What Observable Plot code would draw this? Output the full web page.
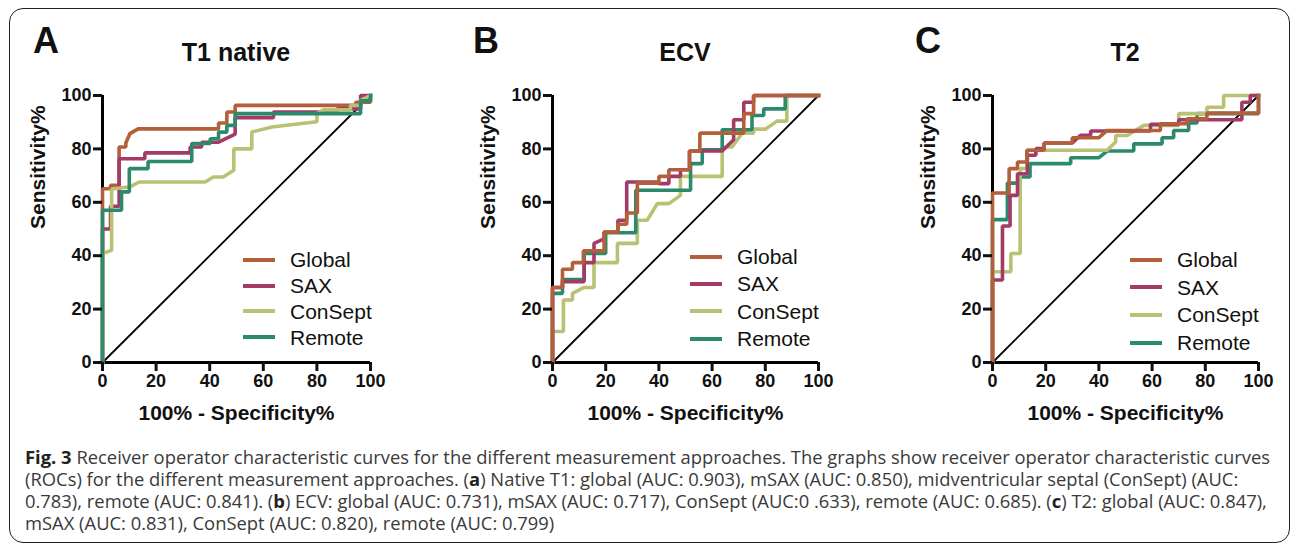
<!DOCTYPE html>
<html><head><meta charset="utf-8">
<script src="https://cdn.jsdelivr.net/npm/d3@7"></script>
<script src="https://cdn.jsdelivr.net/npm/@observablehq/plot@0.6"></script>
<style>
body{margin:0;background:#fff;}
#fig{position:relative;width:1295px;height:555px;overflow:hidden;font-family:"Liberation Sans",Arial,sans-serif;color:#111;}
.frame{position:absolute;left:9px;top:8px;width:1281px;height:535px;border:1.5px solid #222;border-radius:14px;box-sizing:border-box;}
.letter{position:absolute;font-size:36px;font-weight:bold;line-height:1;}
.title{position:absolute;font-size:25px;font-weight:bold;line-height:1;text-align:center;width:300px;}
.panel{position:absolute;}
.legend{position:absolute;}
.row{display:flex;align-items:center;font-size:21px;line-height:1;color:#111;}
.sw{width:32px;height:4px;margin-right:15px;}
.cap{position:absolute;left:25px;white-space:nowrap;font-family:"Open Sans",sans-serif;font-size:17.5px;line-height:22px;color:#3a3a3a;transform-origin:0 50%;}
.cap b{color:#222;}
</style></head>
<body>
<div id="fig"><div class="frame"></div></div>
<script>
// ---------- data ----------
const seriesNames = ["Global", "SAX", "ConSept", "Remote"];
const seriesColors = ["#b35f3a", "#a33b66", "#b9c274", "#2b8a6b"];
const panelLetters = ["A", "B", "C"];
const panelTitles = ["T1 native", "ECV", "T2"];
const xTicks = [0, 20, 40, 60, 80, 100];
const yTicks = [0, 20, 40, 60, 80, 100];
const xLabel = "100% - Specificity%";
const yLabel = "Sensitivity%";
const diagonal = [[0, 0], [100, 100]];

// Panel A: T1 native  [100-specificity, sensitivity]
const t1Global = [[0,0],[0,65.1],[3,65.1],[3,66.4],[6.2,66.4],[6.2,80.7],[8.7,80.7],[8.7,82.2],[10.2,85.7],[13.3,87.5],[43.3,87.5],[43.3,89.7],[46.4,89.7],[46.4,93.8],[49.5,93.8],[49.5,96.3],[94.5,96.3],[94.5,97.5],[100,97.5],[100,100]];
const t1Sax = [[0,0],[0,50],[3,50],[3,58.5],[6.2,58.5],[6.2,76.3],[15.8,76.3],[15.8,78.5],[32.7,78.5],[32.7,80.7],[37,80.7],[37,82.5],[43.3,82.5],[46.4,84],[49.5,85.5],[49.5,91.7],[63.8,91.7],[63.8,93.8],[87.5,93.8],[87.5,95],[96.3,95],[96.3,100],[100,100]];
const t1ConSept = [[0,0],[0,40.8],[3.4,42],[3.4,65],[10.2,65.8],[13.7,67.6],[38.3,67.6],[41.4,69.5],[45,69.5],[49,72],[49,80],[55.7,80],[55.7,86.3],[63.2,88.2],[80,90.2],[80,93.2],[82.5,94.6],[92.5,94.6],[92.5,96.3],[96.3,96.3],[96.3,98.1],[100,100]];
const t1Remote = [[0,0],[0,57],[7.1,57],[7.1,63.9],[10,63.9],[10,72.6],[17,72.6],[17,75.3],[33.3,75.3],[33.3,82],[40.2,82],[40.2,83.8],[43.3,83.8],[43.3,86.3],[46.4,86.3],[46.4,88.8],[49.5,88.8],[49.5,93.2],[96.3,93.2],[96.3,98],[100,98],[100,100]];

// Panel B: ECV
const ecvGlobal = [[0,0],[0,28.1],[3.75,28.1],[3.75,34.9],[7.5,34.9],[7.5,37.4],[11.6,37.4],[11.6,41.8],[19.4,41.8],[19.4,48.9],[24.6,48.9],[24.6,51.8],[27.9,51.8],[27.9,56],[31.9,56],[31.9,67.2],[40,67.2],[40,69.7],[43.75,69.7],[43.75,72.2],[51.5,72.2],[51.5,79.2],[55.4,79.2],[55.4,85.9],[71.9,85.9],[71.9,93.2],[75.6,93.2],[75.6,100],[100,100]];
const ecvSax = [[0,0],[0,28.1],[3.75,28.1],[3.75,30.3],[11.9,30.3],[11.9,37.4],[15.6,37.4],[15.6,44.6],[19.4,46.3],[19.4,48.9],[24.6,48.9],[24.6,53.3],[27.9,53.3],[27.9,67.6],[40,67.6],[40,67],[43.75,67],[43.75,69.7],[48.1,69.7],[48.1,72.2],[51.5,72.2],[51.5,79.2],[63.8,79.2],[68.1,83.4],[68.1,90.9],[71.9,90.9],[71.9,97.5],[75.6,97.5],[75.6,100],[100,100]];
const ecvConSept = [[0,0],[0,11.6],[4.1,11.6],[4.1,23.4],[7.5,23.4],[7.5,25.9],[11.9,28.1],[15.6,28.1],[15.6,37.4],[24.4,37.4],[24.4,44.6],[31.9,44.6],[31.9,53.3],[35.6,53.3],[39.4,59.5],[43.75,59.5],[48.1,62.6],[48.1,69.7],[63.8,69.7],[63.8,80.7],[67.5,80.7],[71.3,85.9],[75.6,85.9],[75.6,87.4],[80,87.4],[84.4,90.4],[88.1,90.4],[88.1,100],[100,100]];
const ecvRemote = [[0,0],[0,25.9],[3.75,25.9],[3.75,31.1],[11.9,31.1],[11.9,40.8],[20,40.8],[20,48.6],[31.3,48.6],[31.3,64.5],[51.9,64.5],[51.9,74.5],[56.3,74.5],[56.3,79.7],[63.8,79.7],[63.8,87.2],[75,87.2],[75,92.5],[79.4,92.5],[79.4,95],[87.5,95],[87.5,100],[100,100]];

// Panel C: T2
const t2Global = [[0,0],[0,63.5],[6.25,63.5],[6.25,72.6],[9.4,72.6],[9.4,75.1],[12.9,75.1],[12.9,79.5],[19.4,79.5],[19.4,82.2],[30,82.2],[30,84.2],[40,84.2],[43.1,86.9],[63.1,86.9],[63.1,89.4],[73.1,89.4],[73.1,91.3],[80.6,91.3],[80.6,93.4],[100,93.4],[100,100]];
const t2Sax = [[0,0],[0,30.9],[3.75,30.9],[3.75,51.1],[6.6,51.1],[6.6,62.6],[9.4,62.6],[9.4,70.7],[13.1,70.7],[13.1,77.6],[16.3,77.6],[16.3,80.1],[19.4,80.1],[19.4,82.2],[30,82.2],[33.1,85.1],[36.9,85.1],[36.9,86.7],[59.4,86.7],[59.4,89.2],[70,89.2],[70,90.9],[93.75,90.9],[93.75,97.5],[96.9,97.5],[96.9,100],[100,100]];
const t2ConSept = [[0,0],[0,34],[6.9,34],[6.9,40.8],[10.4,40.8],[10.4,72.6],[13.1,72.6],[13.1,79.5],[43.1,79.5],[46.3,82.6],[46.3,85],[50.6,85],[56.9,88.8],[70,88.8],[70,93.2],[80.6,93.2],[80.6,95.6],[86.9,95.6],[86.9,100],[100,100]];
const t2Remote = [[0,0],[0,53.5],[5.6,53.5],[5.6,67.2],[10.4,67.2],[10.4,69.5],[14.1,69.5],[14.1,74.5],[29.4,74.5],[29.4,76.7],[40,76.7],[43.1,79.2],[53.1,79.2],[53.1,81.9],[63.75,81.9],[63.75,84.2],[68.1,84.2],[68.1,86.9],[73.75,86.9],[73.75,89.7],[76.9,89.7],[76.9,93.2],[100,93.2],[100,100]];

const captionLines = [
  "<b>Fig. 3</b> Receiver operator characteristic curves for the different measurement approaches. The graphs show receiver operator characteristic curves",
  "(ROCs) for the different measurement approaches. (<b>a</b>) Native T1: global (AUC: 0.903), mSAX (AUC: 0.850), midventricular septal (ConSept) (AUC:",
  "0.783), remote (AUC: 0.841). (<b>b</b>) ECV: global (AUC: 0.731), mSAX (AUC: 0.717), ConSept (AUC:0 .633), remote (AUC: 0.685). (<b>c</b>) T2: global (AUC: 0.847),",
  "mSAX (AUC: 0.831), ConSept (AUC: 0.820), remote (AUC: 0.799)"
];

// ---------- layout ----------
const panels = [
  {curves:[t1Global,t1Sax,t1ConSept,t1Remote], order:[0,1,2,3], plotLeft:102, plotW:268, letterX:33, titleX:236, legX:243, legY:247, legH:25.8},
  {curves:[ecvGlobal,ecvSax,ecvConSept,ecvRemote], order:[2,3,1,0], plotLeft:552, plotW:266, letterX:473, titleX:685, legX:690, legY:243, legH:27.3},
  {curves:[t2Global,t2Sax,t2ConSept,t2Remote], order:[3,2,1,0], plotLeft:992, plotW:266, letterX:915, titleX:1125, legX:1130, legY:246, legH:27.6}
];

const fig = document.getElementById("fig");
const font = "'Liberation Sans', Arial, Helvetica, sans-serif";

panels.forEach((p, k) => {
  const marks = [
    Plot.ruleX([0], {strokeWidth: 3, stroke: "#000"}),
    Plot.ruleY([0], {strokeWidth: 3, stroke: "#000"}),
    Plot.line(diagonal, {stroke: "#000", strokeWidth: 1.8}),
    ...p.order.map(i => Plot.line(p.curves[i], {stroke: seriesColors[i], strokeWidth: 3.6, strokeLinejoin: "miter", strokeLinecap: "square"})),
    Plot.axisX({ticks: xTicks, tickSize: 9, tickPadding: 3, fontSize: 18, fontWeight: "bold", strokeWidth: 3, label: null, fill: "#111"}),
    Plot.axisY({ticks: yTicks, tickSize: 9, tickPadding: 2, fontSize: 18, fontWeight: "bold", strokeWidth: 3, label: null, fill: "#111"}),
    Plot.text([xLabel], {frameAnchor: "bottom", dy: 57, fontSize: 21, fontWeight: "bold", fill: "#111"}),
    Plot.text([yLabel], {frameAnchor: "left", dx: -64, rotate: -90, fontSize: 21, fontWeight: "bold", fill: "#111"})
  ];
  const chart = Plot.plot({
    width: 100 + p.plotW + 20, height: 362,
    marginLeft: 100, marginRight: 20, marginTop: 25, marginBottom: 70,
    x: {domain: [0, 100]}, y: {domain: [0, 100]},
    style: {fontFamily: font, overflow: "visible", background: "transparent"},
    marks
  });
  const wrap = document.createElement("div");
  wrap.className = "panel";
  wrap.style.left = (p.plotLeft - 100) + "px";
  wrap.style.top = "70px";
  wrap.appendChild(chart);
  fig.appendChild(wrap);

  const letter = document.createElement("div");
  letter.className = "letter";
  letter.textContent = panelLetters[k];
  letter.style.left = p.letterX + "px";
  letter.style.top = "22.5px";
  fig.appendChild(letter);

  const title = document.createElement("div");
  title.className = "title";
  title.textContent = panelTitles[k];
  title.style.left = (p.titleX - 150) + "px";
  title.style.top = "40px";
  fig.appendChild(title);

  const leg = document.createElement("div");
  leg.className = "legend";
  leg.style.left = p.legX + "px";
  leg.style.top = p.legY + "px";
  seriesNames.forEach((n, i) => {
    const row = document.createElement("div");
    row.className = "row";
    row.style.height = p.legH + "px";
    const sw = document.createElement("span");
    sw.className = "sw";
    sw.style.background = seriesColors[i];
    const tx = document.createElement("span");
    tx.textContent = n;
    row.appendChild(sw); row.appendChild(tx);
    leg.appendChild(row);
  });
  fig.appendChild(leg);
});

const capEls = captionLines.map((html, i) => {
  const d = document.createElement("div");
  d.className = "cap";
  d.innerHTML = html;
  d.style.top = (446 + i * 22) + "px";
  fig.appendChild(d);
  return d;
});
function fitCaption() {
  const w = capEls[0].getBoundingClientRect().width;
  const s = (1270 - 25) / w;
  capEls.forEach(d => d.style.transform = `scaleX(${s})`);
}
fitCaption();
if (document.fonts && document.fonts.ready) document.fonts.ready.then(() => { capEls.forEach(d => d.style.transform = ""); fitCaption(); });
</script>
</body></html>
